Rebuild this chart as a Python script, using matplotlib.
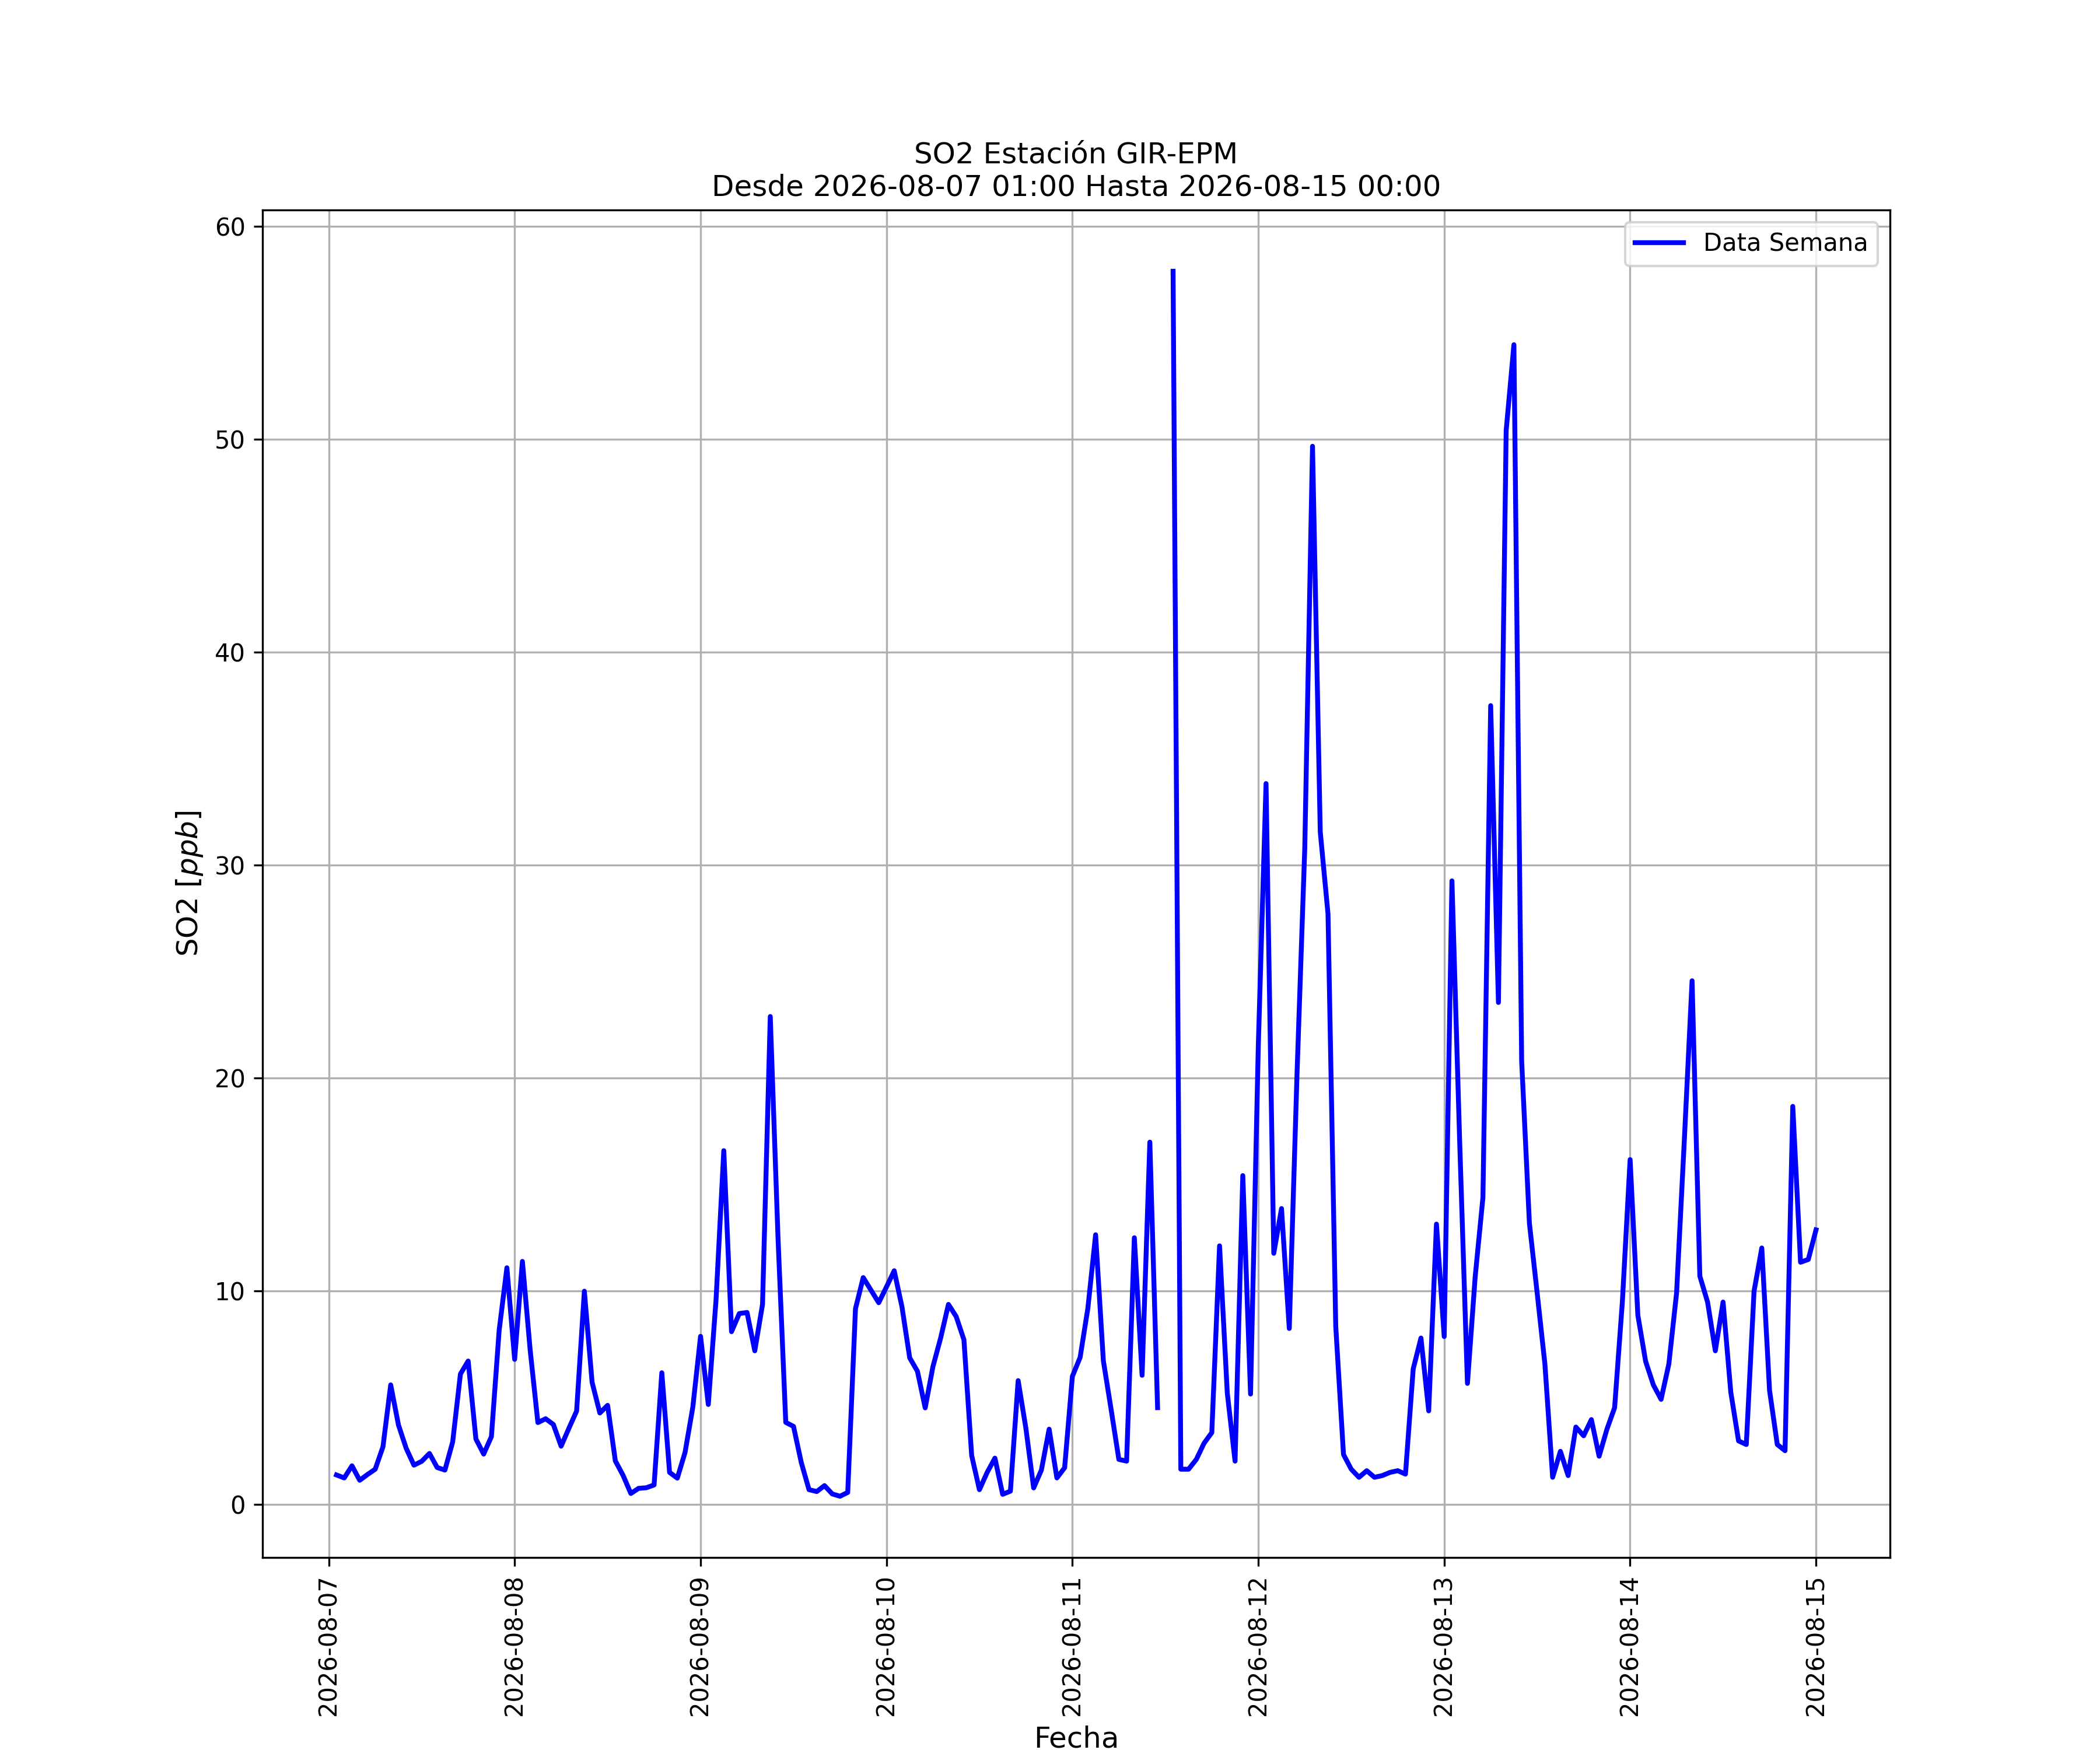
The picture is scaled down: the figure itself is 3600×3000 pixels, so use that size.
import numpy as np
import pandas as pd
import matplotlib
matplotlib.use("Agg")
import matplotlib.pyplot as plt
import matplotlib.dates as mdates

estacion = "GIR-EPM"
inicio = "2026-08-07 01:00"
fin = "2026-08-15 00:00"

# hourly SO2 readings [ppb], one list per day (NaN = missing hour)
dia_07 = [1.37, 1.23, 1.80, 1.12, 1.39, 1.64, 2.69, 5.60, 3.72, 2.62, 1.83, 2.01,
          2.38, 1.72, 1.60, 2.92, 6.11, 6.72, 3.06, 2.35, 3.17, 8.16, 11.1, 6.8]
dia_08 = [11.4, 7.25, 3.83, 4.01, 3.74, 2.72, 3.56, 4.37, 10.0, 5.72, 4.28, 4.64,
          2.03, 1.35, 0.50, 0.74, 0.77, 0.90, 6.17, 1.49, 1.22, 2.43, 4.55, 7.88]
dia_09 = [4.68, 9.6, 16.6, 8.1, 8.95, 9.0, 7.2, 9.38, 22.9, 12.5, 3.84, 3.65,
          1.96, 0.68, 0.59, 0.87, 0.48, 0.37, 0.55, 9.18, 10.64, 10.05, 9.46, 10.2]
dia_10 = [10.96, 9.27, 6.87, 6.24, 4.52, 6.46, 7.81, 9.38, 8.81, 7.72, 2.28, 0.68,
          1.49, 2.16, 0.46, 0.61, 5.80, 3.56, 0.76, 1.60, 3.52, 1.23, 1.71, 6.0]
dia_11 = [6.89, 9.2, 12.65, 6.73, 4.45, 2.10, 2.02, 12.51, 6.05, 17.0, 4.53, np.nan,
          57.9, 1.64, 1.64, 2.10, 2.86, 3.36, 12.13, 5.21, 2.02, 15.43, 5.17, 21.5]
dia_12 = [33.84, 11.78, 13.88, 8.25, 20.2, 30.8, 49.68, 31.57, 27.72, 8.35, 2.33, 1.64,
          1.26, 1.57, 1.26, 1.34, 1.49, 1.57, 1.41, 6.35, 7.80, 4.38, 13.15, 7.87]
dia_13 = [29.27, 17.0, 5.67, 10.68, 14.4, 37.5, 23.56, 50.42, 54.45, 20.8, 13.19, 9.92,
          6.58, 1.26, 2.48, 1.34, 3.62, 3.21, 3.97, 2.25, 3.51, 4.53, 9.5, 16.18]
dia_14 = [8.87, 6.71, 5.6, 4.92, 6.58, 9.92, 17.1, 24.58, 10.71, 9.49, 7.20, 9.49,
          5.25, 2.97, 2.80, 10.0, 12.03, 5.34, 2.80, 2.51, 18.68, 11.36, 11.49, 12.88]

so2 = dia_07 + dia_08 + dia_09 + dia_10 + dia_11 + dia_12 + dia_13 + dia_14
fechas = pd.date_range(inicio, fin, freq="h")

df = pd.DataFrame({"Fecha": fechas, "SO2": so2})

fig, ax = plt.subplots(figsize=(12, 10), dpi=300)
ax.plot(df["Fecha"], df["SO2"], color="blue", linewidth=2, label="Data Semana")

ax.set_title("SO2 Estación " + estacion + "\nDesde " + inicio + " Hasta " + fin, fontsize=12)
ax.set_xlabel("Fecha", fontsize=12)
ax.set_ylabel("SO2 [$ppb$]", fontsize=12)

ax.xaxis.set_major_locator(mdates.DayLocator())
ax.xaxis.set_major_formatter(mdates.DateFormatter("%Y-%m-%d"))
plt.setp(ax.get_xticklabels(), rotation=90)

ax.grid(True)
ax.legend(loc="upper right")

fig.savefig("out.png", dpi=300)
